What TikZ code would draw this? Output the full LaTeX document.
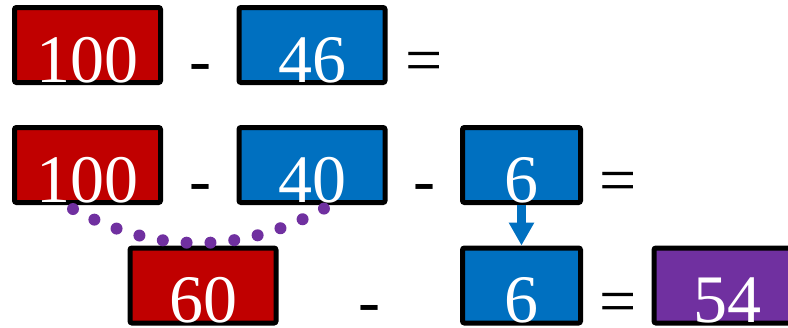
\documentclass[tikz,border=0pt]{standalone}
\usepackage{fontspec}
\setmainfont{Liberation Serif}
\usetikzlibrary{arrows.meta,calc}
\definecolor{boxred}{HTML}{C00000}
\definecolor{boxblue}{HTML}{0070C0}
\definecolor{boxpurple}{HTML}{7030A0}
\begin{document}
\begin{tikzpicture}[x=1pt,y=-1pt,
  numbox/.style={draw=black, line width=5pt, rounded corners=2pt, inner sep=0pt,
    minimum height=75pt, text=white, font=\fontsize{68}{68}\selectfont,
    text height=74pt, text depth=0pt},
  wide/.style={numbox, minimum width=146pt},
  narrow/.style={numbox, minimum width=118pt},
  op/.style={font=\fontsize{66}{66}\selectfont, inner sep=0pt, anchor=base},
  dots/.style={draw=boxpurple, line width=12pt, line cap=round, dash pattern=on 0pt off 23.9pt},
  down/.style={draw=boxblue, line width=9pt, -{Triangle[width=24pt,length=23pt]}}
]
\useasboundingbox (0,0) rectangle (788,327);
\clip (0,0) rectangle (788,327);
% row 1
\node[wide, fill=boxred]  (ra) at (87.5,45) {100};
\node[wide, fill=boxblue] (ba) at (312,45) {46};
\node[op] (ma) at (200.5,82) {-};
\node[op] (ea) at (424,82) {=};
% row 2
\node[wide, fill=boxred]  (rb) at (87.5,165) {100};
\node[wide, fill=boxblue] (bb) at (312,165) {40};
\node[narrow, fill=boxblue] (sb) at (521.5,165) {6};
\node[op] (mb1) at (200.5,202) {-};
\node[op] (mb2) at (424,202) {-};
\node[op] (eb) at (618,202) {=};
% row 3
\node[wide, fill=boxred]  (rc) at (203,285.5) {60};
\node[narrow, fill=boxblue] (sc) at (521.5,285.5) {6};
\node[wide, fill=boxpurple] (pc) at (727,285.5) {54};
\node[op] (mc) at (369,323) {-};
\node[op] (ec) at (618,323) {=};
% connectors
\coordinate (ds) at ($(rb.south)+(-14.5,4)$);
\coordinate (de) at ($(bb.south)+(13,3)$);
\draw[dots] (ds) .. controls (157,254.7) and (241,254.3) .. (de);
\draw[down] (sb.south) -- (sc.north);
\end{tikzpicture}
\end{document}
